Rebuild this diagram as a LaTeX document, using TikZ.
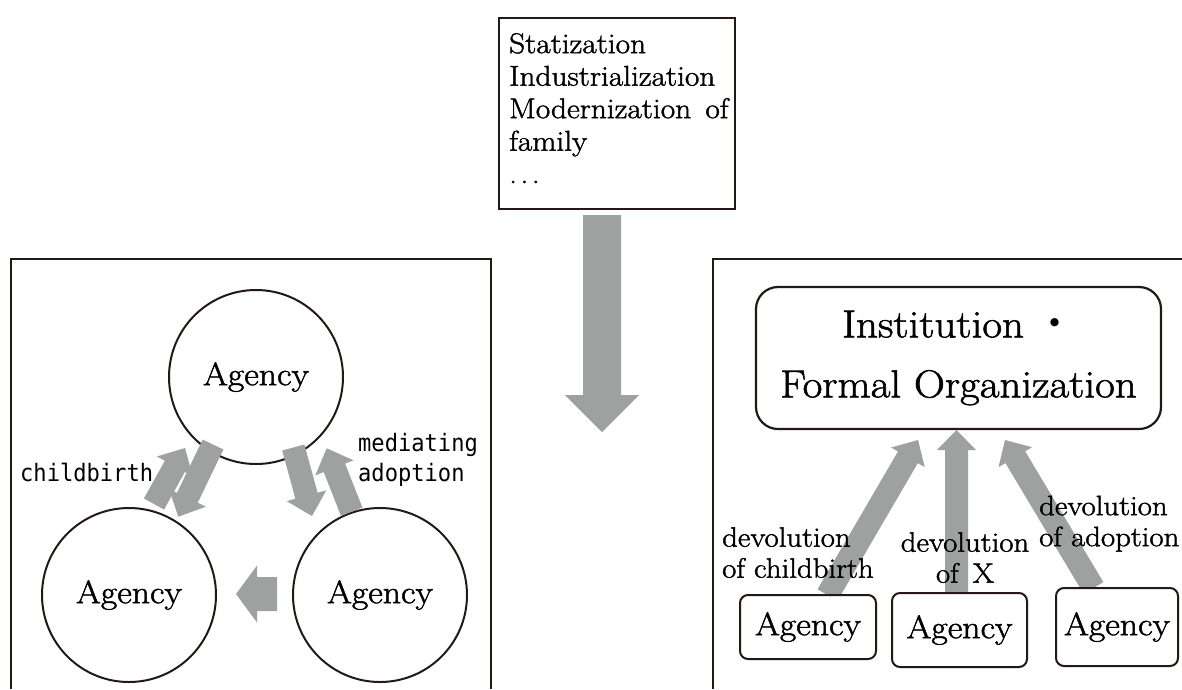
\documentclass[tikz,border=0pt]{standalone}
\usepackage{fontspec}
\setmainfont{Latin Modern Roman}[FakeBold=1.5, FakeStretch=1.1]
\newfontfamily\monofont{DejaVu Sans Mono}[FakeStretch=0.92]
\newfontfamily\jpfont{Noto Sans CJK JP}
\usetikzlibrary{calc}
\definecolor{ink}{RGB}{35,24,21}
\definecolor{arrowgray}{RGB}{159,160,160}
% #1 tail, #2 tip, #3 half shaft width, #4 half head width, #5 head length
\newcommand{\blockarrow}[5]{%
  \coordinate (bahead) at ($(#2)!#5!(#1)$);
  \fill[arrowgray] ($(#1)!#3!90:(#2)$) -- ($(bahead)!#3!90:(#2)$) -- ($(bahead)!#4!90:(#2)$) -- (#2)
    -- ($(bahead)!#4!-90:(#2)$) -- ($(bahead)!#3!-90:(#2)$) -- ($(#1)!#3!-90:(#2)$) -- cycle;
}
\tikzset{
  panel/.style={draw=ink, line width=1.4pt},
  agentcircle/.style={circle, draw=ink, line width=2pt, minimum size=174pt, inner sep=0pt,
    font=\fontsize{32.5}{38}\selectfont},
  agentbox/.style={rectangle, rounded corners=8pt, draw=ink, fill=white, line width=2pt,
    inner sep=0pt, font=\fontsize{32.5}{38}\selectfont},
  devlabel/.style={inner sep=0pt, align=left, font=\fontsize{28}{31}\selectfont},
  monolabel/.style={inner sep=0pt, font=\monofont\fontsize{24}{30}\selectfont},
}
\begin{document}
\begin{tikzpicture}[x=1pt,y=-1pt]
\useasboundingbox (0,0) rectangle (1182,689);

% ---------- top box and big arrow ----------
\node[draw=ink, line width=2pt, minimum width=236pt, minimum height=191pt, inner sep=0pt,
  anchor=north west] (envbox) at (498,17) {};
\node[anchor=north west, inner sep=0pt, align=left, font=\fontsize{28.5}{32.5}\selectfont]
  (envtext) at (509,33) {Statization\\Industrialization\\Modernization\enspace of\\family\\.\kern3.5pt.\kern3.5pt.};
\coordinate (downS) at (602,215);
\coordinate (downE) at (602,432);
\blockarrow{downS}{downE}{19pt}{37pt}{37pt}

% ---------- left panel ----------
\draw[panel] (11,689) -- (11,259) -- (491,259) -- (491,689);
\node[agentcircle] (ctop) at (256,377) {Agency};
\node[agentcircle] (cleft) at (129,595) {Agency};
\node[agentcircle] (cright) at (380,595) {Agency};

\coordinate (cbUs) at (154,504);   \coordinate (cbUe) at (185,448);
\coordinate (cbDs) at (213,444.5); \coordinate (cbDe) at (178.3,516.7);
\coordinate (mdDs) at (293.3,447.5); \coordinate (mdDe) at (312,516);
\coordinate (mdUs) at (351.7,511.7); \coordinate (mdUe) at (326.7,448.3);
\coordinate (hS) at (277,594); \coordinate (hE) at (236,594);
\blockarrow{cbUs}{cbUe}{11.5pt}{20.5pt}{21pt}
\blockarrow{cbDs}{cbDe}{11.5pt}{20.5pt}{21pt}
\blockarrow{mdDs}{mdDe}{11.5pt}{20.5pt}{21pt}
\blockarrow{mdUs}{mdUe}{11.5pt}{20.5pt}{21pt}
\blockarrow{hS}{hE}{17pt}{28.5pt}{21pt}

\node[monolabel, anchor=base west] (cbtext) at (20,481) {childbirth};
\node[monolabel, align=left, anchor=north west] (medtext) at (358,433) {mediating\\adoption};

% ---------- right panel ----------
\draw[panel] (713,689) -- (713,259) -- (1182,259);

\coordinate (r1s) at (827.5,595);  \coordinate (r1e) at (918,440);
\coordinate (r2s) at (956.5,593);  \coordinate (r2e) at (956.5,430);
\coordinate (r3s) at (1093.5,588); \coordinate (r3e) at (1005,440);
\blockarrow{r1s}{r1e}{11.5pt}{19.5pt}{20pt}
\blockarrow{r2s}{r2e}{11.5pt}{19.5pt}{20pt}
\blockarrow{r3s}{r3e}{11.5pt}{19.5pt}{20pt}

\node[rectangle, rounded corners=22pt, draw=ink, line width=2.2pt, minimum width=405pt,
  minimum height=142pt, align=center, font=\fontsize{39}{60}\selectfont]
  (inst) at (958.5,358) {Institution\kern12pt{\jpfont ・}\\Formal Organization};

\node[agentbox, minimum width=136pt, minimum height=64pt] (ag1) at (808,627) {Agency};
\node[agentbox, minimum width=135pt, minimum height=74pt] (ag2) at (959.5,630) {Agency};
\node[agentbox, minimum width=122pt, minimum height=78pt] (ag3) at (1117,627) {Agency};

\node[devlabel, anchor=north west] (lab1) at (722,527) {devolution\\of childbirth};
\node[devlabel, align=center, anchor=north] (lab2) at (965,532) {devolution\\of\enspace X};
\node[devlabel, anchor=north west] (lab3) at (1039,495.5) {devolution\\of adoption};
\end{tikzpicture}
\end{document}
